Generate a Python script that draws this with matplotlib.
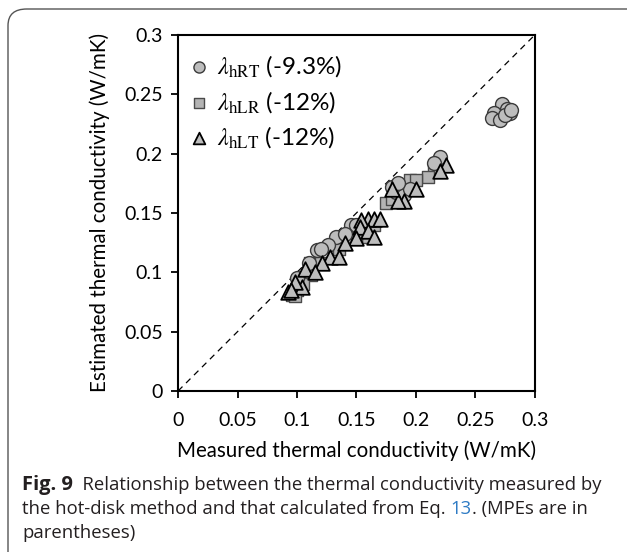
import numpy as np
import matplotlib
matplotlib.use('Agg')
import matplotlib.pyplot as plt
from matplotlib.patches import FancyBboxPatch

# measured (x) vs estimated (y) thermal conductivity, W/mK
rt_meas = [0.272, 0.277, 0.266, 0.264, 0.271, 0.279, 0.275, 0.280,
           0.220, 0.215, 0.180, 0.183, 0.190, 0.195, 0.145, 0.150,
           0.133, 0.126, 0.1165, 0.120, 0.110, 0.100, 0.140, 0.185]
rt_est = [0.242, 0.238, 0.234, 0.230, 0.228, 0.234, 0.2325, 0.237,
          0.197, 0.192, 0.172, 0.168, 0.165, 0.170, 0.140, 0.140,
          0.130, 0.123, 0.119, 0.120, 0.108, 0.095, 0.132, 0.175]

lr_meas = [0.215, 0.210, 0.195, 0.200, 0.175, 0.180, 0.155, 0.160,
           0.150, 0.140, 0.135, 0.111, 0.112, 0.120, 0.0955, 0.100,
           0.098, 0.105, 0.185, 0.165]
lr_est = [0.185, 0.180, 0.178, 0.178, 0.158, 0.162, 0.135, 0.130,
          0.130, 0.128, 0.120, 0.1075, 0.098, 0.108, 0.081, 0.085,
          0.080, 0.090, 0.168, 0.140]

lt_meas = [0.225, 0.220, 0.200, 0.190, 0.185, 0.180, 0.160, 0.165,
           0.170, 0.154, 0.153, 0.150, 0.160, 0.165, 0.128, 0.135,
           0.121, 0.107, 0.115, 0.0924, 0.104, 0.098, 0.095, 0.140]
lt_est = [0.190, 0.185, 0.170, 0.160, 0.160, 0.170, 0.145, 0.145,
          0.145, 0.144, 0.138, 0.129, 0.135, 0.130, 0.113, 0.113,
          0.1075, 0.103, 0.100, 0.083, 0.088, 0.092, 0.085, 0.125]

labels = [r'$\lambda_{\rm hRT}$ (-9.3%)', r'$\lambda_{\rm hLR}$ (-12%)',
          r'$\lambda_{\rm hLT}$ (-12%)']
ticks = [0, 0.05, 0.1, 0.15, 0.2, 0.25, 0.3]
tick_labels = ['0', '0.05', '0.1', '0.15', '0.2', '0.25', '0.3']

plt.rcParams['font.family'] = ['Lato', 'DejaVu Sans']
plt.rcParams['mathtext.fontset'] = 'stix'

fig = plt.figure(figsize=(6.27, 5.52), dpi=100)
ax = fig.add_axes([0.284, 0.2917, 0.569, 0.645])

ax.plot([0, 0.3], [0, 0.3], color='black', lw=0.9, dashes=(5, 4), zorder=1)
ax.scatter(rt_meas, rt_est, s=100, marker='o', facecolor='#bdbdbd',
           edgecolor='#3a3a3a', lw=1.0, label=labels[0], zorder=3)
ax.scatter(lr_meas, lr_est, s=85, marker='s', facecolor='#b4b4b4',
           edgecolor='#4a4a4a', lw=1.0, label=labels[1], zorder=2)
ax.scatter(lt_meas, lt_est, s=110, marker='^', facecolor='#bdbdbd',
           edgecolor='black', lw=1.3, label=labels[2], zorder=4)

ax.set_xlim(0, 0.3)
ax.set_ylim(0, 0.3)
ax.set_xticks(ticks)
ax.set_xticklabels(tick_labels)
ax.set_yticks(ticks)
ax.set_yticklabels(tick_labels)
ax.tick_params(direction='out', length=5, width=1.3, labelsize=14)
ax.tick_params(axis='x', pad=10)
ax.tick_params(axis='y', pad=6)
for s in ax.spines.values():
    s.set_linewidth(1.5)

ax.set_xlabel('Measured thermal conductivity (W/mK)', fontsize=14.8, labelpad=8.5)
ax.set_ylabel('Estimated thermal conductivity (W/mK)', fontsize=14.8, labelpad=10)

leg = ax.legend(loc='upper left', frameon=False, fontsize=17.5, handletextpad=0.35,
                borderaxespad=0, borderpad=0.3, labelspacing=0.4,
                markerscale=0.8, handlelength=0.8,
                bbox_to_anchor=(0.010, 0.969))

# rounded frame round the figure
frame = FancyBboxPatch((8 / 627, -0.05), 1.2, 1.05 - 9 / 552,
                       boxstyle='round,pad=0,rounding_size=0.03',
                       transform=fig.transFigure, fill=False,
                       edgecolor='#555555', lw=1.0)
fig.add_artist(frame)

# caption, pieces placed one after another on the same baseline
cap = dict(fontsize=13.3, family=['Open Sans', 'DejaVu Sans'], color='#231f20')
renderer = fig.canvas.get_renderer()


def chain(pieces, x, y):
    for txt, extra in pieces:
        kw = dict(cap)
        kw.update(extra)
        t = fig.text(x, y, txt, va='baseline', **kw)
        x = fig.transFigure.inverted().transform(
            (t.get_window_extent(renderer).x1, 0))[0]


chain([('Fig. 9', {'fontweight': 'bold', 'fontsize': 14.5}),
       ('  Relationship between the thermal conductivity measured by', {})],
      22 / 627, 1 - 490 / 552)
chain([('the hot-disk method and that calculated from Eq. ', {}),
       ('13', {'color': '#2e7bc4'}),
       ('. (MPEs are in', {})],
      22 / 627, 1 - 514 / 552)
chain([('parentheses)', {})], 22 / 627, 1 - 538 / 552)

fig.savefig('out.png', dpi=100)
